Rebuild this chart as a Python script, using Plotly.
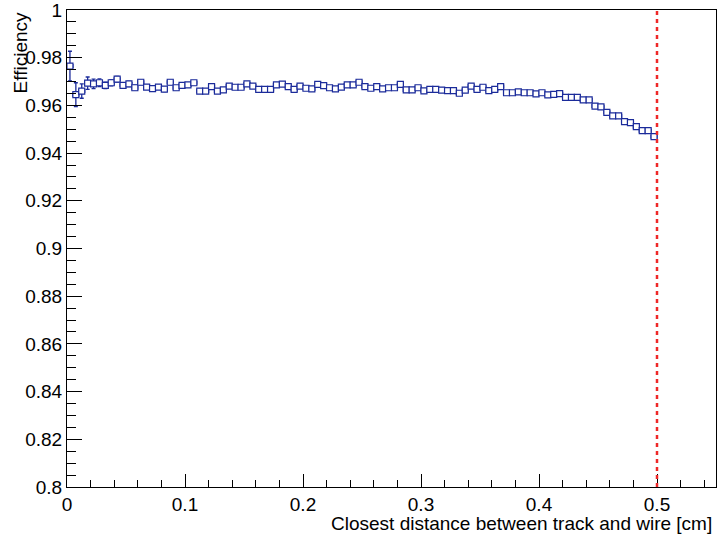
import plotly.graph_objects as go

# Efficiency per 0.005 cm bin of track-to-wire distance (0 .. 0.5 cm)
bin_width = 0.005
efficiency = [
    0.9765, 0.9645, 0.9660, 0.9693, 0.9690, 0.9695, 0.9684, 0.9695, 0.9710, 0.9684,
    0.9690, 0.9674, 0.9697, 0.9677, 0.9670, 0.9677, 0.9668, 0.9697, 0.9674, 0.9684,
    0.9686, 0.9695, 0.9660, 0.9660, 0.9679, 0.9660, 0.9665, 0.9681, 0.9676, 0.9676,
    0.9690, 0.9681, 0.9667, 0.9667, 0.9667, 0.9686, 0.9689, 0.9679, 0.9667, 0.9681,
    0.9672, 0.9669, 0.9688, 0.9683, 0.9674, 0.9669, 0.9677, 0.9686, 0.9686, 0.9697,
    0.9679, 0.9672, 0.9679, 0.9669, 0.9674, 0.9674, 0.9688, 0.9665, 0.9665, 0.9674,
    0.9661, 0.9667, 0.9667, 0.9664, 0.9662, 0.9662, 0.9651, 0.9664, 0.9681, 0.9667,
    0.9676, 0.9662, 0.9667, 0.9679, 0.9653, 0.9653, 0.9657, 0.9653, 0.9653, 0.9648,
    0.9653, 0.9644, 0.9646, 0.9649, 0.9634, 0.9634, 0.9634, 0.9623, 0.9623, 0.9597,
    0.9594, 0.9571, 0.9556, 0.9556, 0.9532, 0.9528, 0.9511, 0.9494, 0.9494, 0.9469,
]
efficiency_err = [
    0.0062, 0.0050, 0.0030, 0.0026, 0.0020, 0.0016, 0.0014, 0.0013, 0.0012, 0.0011,
    0.0011, 0.0011, 0.0010, 0.0010, 0.0010, 0.0010, 0.0010, 0.0010, 0.0009, 0.0009,
    0.0009, 0.0009, 0.0009, 0.0009, 0.0009, 0.0009, 0.0009, 0.0009, 0.0009, 0.0009,
    0.0009, 0.0009, 0.0009, 0.0009, 0.0009, 0.0009, 0.0009, 0.0009, 0.0009, 0.0009,
    0.0009, 0.0009, 0.0009, 0.0009, 0.0009, 0.0009, 0.0009, 0.0009, 0.0009, 0.0009,
    0.0009, 0.0009, 0.0009, 0.0009, 0.0009, 0.0009, 0.0009, 0.0009, 0.0009, 0.0009,
    0.0009, 0.0009, 0.0009, 0.0009, 0.0009, 0.0009, 0.0009, 0.0009, 0.0009, 0.0009,
    0.0009, 0.0009, 0.0009, 0.0009, 0.0009, 0.0009, 0.0009, 0.0009, 0.0009, 0.0009,
    0.0009, 0.0009, 0.0009, 0.0009, 0.0009, 0.0009, 0.0009, 0.0009, 0.0009, 0.0009,
    0.0009, 0.0009, 0.0009, 0.0009, 0.0009, 0.0009, 0.0009, 0.0009, 0.0009, 0.0009,
]
bin_centers = [bin_width * (i + 0.5) for i in range(len(efficiency))]

x_tick_vals = [0, 0.1, 0.2, 0.3, 0.4, 0.5]
x_tick_text = ["0", "0.1", "0.2", "0.3", "0.4", "0.5"]
y_tick_vals = [0.8, 0.82, 0.84, 0.86, 0.88, 0.9, 0.92, 0.94, 0.96, 0.98, 1.0]
y_tick_text = ["0.8", "0.82", "0.84", "0.86", "0.88", "0.9", "0.92", "0.94", "0.96", "0.98", "1"]

cut_position = 0.5
x_title = "Closest distance between track and wire [cm]"
y_title = "Efficiency"

blue = "#1b2b9a"
font_family = "Liberation Sans, Arial, Helvetica, sans-serif"
font_size = 19

fig = go.Figure()
fig.add_trace(go.Scatter(
    x=bin_centers,
    y=efficiency,
    mode="markers",
    marker=dict(symbol="square", size=6, color="white",
                line=dict(color=blue, width=1.2)),
    error_x=dict(type="constant", value=bin_width / 2, color=blue,
                 thickness=1.3, width=2),
    error_y=dict(type="data", array=efficiency_err, color=blue,
                 thickness=1.3, width=2),
    showlegend=False,
))

# vertical cut line
fig.add_shape(type="line", xref="x", yref="y",
              x0=cut_position, x1=cut_position, y0=0.8, y1=1.0,
              line=dict(color="rgb(238,40,40)", width=2.5, dash="4px,4px"))

axis_common = dict(
    showgrid=False, zeroline=False,
    showline=True, linecolor="black", linewidth=1, mirror=True,
    ticks="inside", tickcolor="black", tickwidth=1,
    ticklabeloverflow="allow",
    tickfont=dict(family=font_family, size=font_size, color="black"),
)

fig.update_xaxes(
    range=[0, 0.55], tickvals=x_tick_vals, ticktext=x_tick_text, ticklen=13,
    minor=dict(dtick=0.02, ticks="inside", ticklen=7, tickcolor="black", tickwidth=1),
    **axis_common,
)
fig.update_yaxes(
    range=[0.8, 1.0], tickvals=y_tick_vals, ticktext=y_tick_text, ticklen=15,
    minor=dict(dtick=0.005, ticks="inside", ticklen=9, tickcolor="black", tickwidth=1),
    **axis_common,
)

fig.add_annotation(text=x_title, xref="paper", yref="paper",
                   x=0.997, y=-0.0755, xanchor="right", yanchor="middle",
                   showarrow=False,
                   font=dict(family=font_family, size=font_size, color="black"))
fig.add_annotation(text=y_title, xref="paper", yref="paper",
                   x=-0.071, y=1.0, xanchor="center", yanchor="top",
                   textangle=-90, showarrow=False,
                   font=dict(family=font_family, size=font_size, color="black"))

fig.update_layout(
    width=717, height=534,
    margin=dict(l=67, r=1, t=10, b=47),
    plot_bgcolor="white", paper_bgcolor="white",
)

fig.write_html("out.html")
